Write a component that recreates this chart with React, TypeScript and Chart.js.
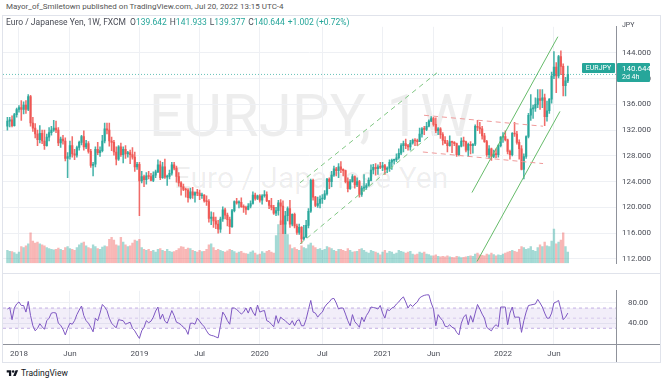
import React, { useEffect, useRef } from "react";
import { Chart, registerables } from "chart.js";

Chart.register(...registerables);

const FONT = "Roboto, 'Liberation Sans', Arial, sans-serif";
const UP = "#26a69a";
const DOWN = "#ef5350";
const UP_C = "rgba(38,166,154,0.85)";
const DOWN_C = "rgba(239,83,80,0.85)";
const UP_VOL = "rgba(38,166,154,0.42)";
const DOWN_VOL = "rgba(239,83,80,0.42)";
const GRID = "#eef0f4";
const AXIS_LINE = "#8f929b";
const TXT = "#4a4d57";

// Weekly bars, index 0 = week of 2017-11-27, last = week of 2022-07-18
const timeTickIdx = [5, 27, 57, 83, 109, 136, 162, 184, 214, 236];
const timeTickLabels = ["2018", "Jun", "2019", "Jul", "2020", "Jul", "2021", "Jun", "2022", "Jun"];
const priceTicks = [112, 116, 120, 124, 128, 132, 136, 140, 144];
const rsiTicks = [40, 80];

const opens = [
  132.6,133.4,133.6,132.7,134.4,135.2,135.5,135.2,135.9,135.2,
  137.2,133.1,132.3,131.4,130.5,131.5,130.3,129.6,130.9,131.6,
  132.0,132.3,132.0,130.0,130.6,130.3,127.6,127.9,129.6,128.3,
  128.1,129.3,130.1,131.0,129.4,129.9,128.7,126.5,126.7,129.0,
  128.5,128.8,130.3,132.2,132.0,130.3,130.1,128.6,127.5,129.4,
  128.2,129.0,128.3,128.5,128.2,127.8,126.3,126.7,124.1,124.8,
  124.3,124.9,124.8,124.2,125.0,125.5,126.6,124.6,126.3,124.7,
  124.8,125.3,126.6,126.1,124.8,123.8,123.2,122.8,122.7,121.5,
  122.4,121.9,122.3,122.2,121.8,121.9,121.0,120.9,118.3,118.5,
  117.9,117.4,116.6,118.2,119.6,118.8,118.1,117.0,119.5,120.9,
  120.7,120.8,120.1,120.0,119.7,120.2,120.6,121.9,121.4,121.8,
  121.1,121.8,122.0,121.0,120.3,120.0,119.1,119.5,120.7,120.2,
  117.4,118.7,119.8,117.4,118.9,117.1,116.1,116.9,115.1,115.4,
  117.2,119.4,124.2,121.6,120.3,120.6,121.3,121.4,122.1,124.4,
  124.0,125.0,126.0,125.7,126.3,125.9,125.7,124.0,122.9,124.0,
  124.8,123.5,124.0,122.0,123.0,123.1,123.4,124.2,125.8,126.2,
  126.0,126.3,126.2,126.5,125.9,126.1,127.0,127.3,127.4,127.7,
  128.4,129.6,129.9,129.6,129.4,130.0,130.4,130.3,130.2,131.4,
  132.2,132.1,132.6,133.4,133.8,132.9,131.9,132.2,131.3,130.4,
  130.0,129.6,130.2,130.1,129.9,128.2,129.5,130.3,130.2,128.9,
  129.8,129.6,129.8,132.6,132.4,132.2,131.1,130.2,128.2,129.1,
  127.9,128.3,128.2,129.6,130.9,131.0,130.5,128.7,128.2,131.5,
  131.4,130.1,129.1,125.9,127.9,131.0,134.3,135.3,135.4,136.0,
  136.9,136.6,137.0,134.1,135.0,136.8,140.4,141.8,140.4,143.4,
  141.9,138.9,139.642,
];

const highs = [
  134.0,134.0,134.2,134.6,135.4,135.8,136.6,136.4,136.6,137.5,
  137.4,134.0,133.0,132.0,132.7,132.0,132.0,131.4,132.4,132.6,
  133.5,133.4,132.4,130.9,131.2,130.8,128.5,130.3,131.0,129.0,
  129.5,130.3,131.2,131.9,130.4,130.2,129.0,127.0,129.4,130.1,
  129.4,131.2,133.1,133.1,133.1,130.9,130.4,129.4,129.6,130.0,
  129.4,129.6,128.7,128.9,129.3,128.6,127.0,127.0,125.6,125.0,
  125.4,125.6,125.3,125.5,125.8,127.4,127.2,127.0,127.5,125.0,
  125.8,127.0,127.0,126.4,125.4,124.0,123.6,123.0,122.9,123.0,
  123.1,122.4,122.8,122.7,122.2,122.0,121.8,121.2,119.3,119.2,
  118.5,118.0,118.5,120.1,119.9,119.1,118.5,119.7,121.0,121.4,
  121.0,121.5,120.4,120.2,120.6,121.0,122.4,122.2,121.9,122.0,
  122.0,122.6,122.4,121.1,121.4,120.3,120.0,121.1,121.2,121.0,
  119.4,120.1,121.1,119.0,119.1,117.4,117.4,117.0,117.2,118.0,
  119.8,124.4,124.4,121.7,121.6,121.8,122.0,122.6,124.5,124.6,
  125.6,126.4,126.2,126.8,127.1,126.0,125.8,124.6,124.3,125.1,
  124.9,124.6,124.2,123.3,125.1,123.7,124.6,126.6,126.7,126.8,
  126.6,127.0,127.0,126.7,126.3,127.4,127.5,127.5,128.3,129.1,
  129.9,130.3,130.6,129.8,130.4,130.6,130.7,130.6,132.3,132.4,
  132.6,133.2,133.6,134.1,134.0,133.9,132.4,132.4,131.6,131.0,
  130.4,131.1,130.3,130.2,130.0,129.6,130.8,130.9,130.3,130.0,
  130.2,129.9,132.8,133.5,133.2,132.6,131.5,130.4,129.6,129.2,
  128.9,129.1,129.7,131.0,131.6,131.9,130.6,128.9,131.6,133.2,
  131.8,130.5,129.6,128.3,131.1,134.6,137.5,135.9,137.0,138.3,
  138.3,138.3,137.6,136.5,136.9,141.0,144.2,142.5,143.6,144.3,
  142.3,140.2,141.933,
];

const lows = [
  132.0,132.5,132.5,132.6,134.0,134.8,133.5,134.5,134.6,135.0,
  132.6,131.8,130.8,129.6,130.0,129.9,129.0,129.5,130.3,131.2,
  131.8,131.6,129.6,129.3,129.8,127.2,124.6,127.5,127.8,127.4,
  127.8,128.9,129.7,128.9,129.1,128.4,126.2,124.9,126.3,128.2,
  127.9,128.6,130.0,131.4,129.5,128.8,128.1,126.6,127.3,127.9,
  126.9,127.6,127.8,126.8,127.5,125.6,125.9,118.7,123.8,123.2,
  123.6,124.4,124.1,124.0,124.6,125.4,124.3,124.5,124.5,123.4,
  124.4,125.0,125.8,123.9,123.3,121.9,122.6,121.6,120.8,121.3,
  121.4,120.8,121.8,121.2,121.4,120.8,120.3,117.7,117.3,116.9,
  116.7,116.0,116.1,117.8,118.2,117.1,115.9,116.9,119.3,120.5,
  119.9,120.0,119.2,118.9,119.6,119.9,120.5,121.1,121.2,120.8,
  120.5,121.6,120.9,119.8,119.6,118.9,118.7,118.8,117.3,115.9,
  115.9,117.9,116.9,117.1,116.8,115.8,115.8,114.4,114.9,115.3,
  116.8,119.2,121.1,120.1,120.0,119.9,120.6,121.2,121.9,122.9,
  123.2,124.8,124.9,124.6,125.4,124.9,123.8,122.4,122.8,123.9,
  123.0,123.2,121.6,121.7,122.5,122.8,123.3,124.1,125.2,125.0,
  125.1,126.0,125.7,125.1,125.4,125.6,125.9,126.7,127.1,127.5,
  128.2,128.6,129.1,128.9,128.9,129.8,129.6,129.6,130.2,130.9,
  131.3,131.9,132.5,133.3,132.6,131.6,131.3,130.7,129.7,129.9,
  128.6,129.5,128.5,129.6,127.9,128.0,129.4,129.5,128.6,127.9,
  128.3,128.4,129.6,131.9,131.5,130.6,130.1,127.9,127.6,127.3,
  127.7,127.7,127.8,129.4,130.1,130.3,128.3,127.5,128.0,131.0,
  129.8,127.5,125.8,124.4,127.6,130.8,133.5,133.8,134.9,135.5,
  135.2,135.5,132.7,133.4,134.6,136.2,140.0,137.8,140.1,140.6,
  137.3,137.3,139.377,
];

const closes = [
  133.4,133.6,132.7,134.4,135.2,135.5,135.2,135.9,135.2,137.2,
  133.1,132.3,131.4,130.5,131.5,130.3,129.6,130.9,131.6,132.0,
  132.3,132.0,130.0,130.6,130.3,127.6,127.9,129.6,128.3,128.1,
  129.3,130.1,131.0,129.4,129.9,128.7,126.5,126.7,129.0,128.5,
  128.8,130.3,132.2,132.0,130.3,130.1,128.6,127.5,129.4,128.2,
  129.0,128.3,128.5,128.2,127.8,126.3,126.7,124.1,124.8,124.3,
  124.9,124.8,124.2,125.0,125.5,126.6,124.6,126.3,124.7,124.8,
  125.3,126.6,126.1,124.8,123.8,123.2,122.8,122.7,121.5,122.4,
  121.9,122.3,122.2,121.8,121.9,121.0,120.9,118.3,118.5,117.9,
  117.4,116.6,118.2,119.6,118.8,118.1,117.0,119.5,120.9,120.7,
  120.8,120.1,120.0,119.7,120.2,120.6,121.9,121.4,121.8,121.1,
  121.8,122.0,121.0,120.3,120.0,119.1,119.5,120.7,120.2,117.4,
  118.7,119.8,117.4,118.9,117.1,116.1,116.9,115.1,115.4,117.2,
  119.4,124.2,121.6,120.3,120.6,121.3,121.4,122.1,124.4,124.0,
  125.0,126.0,125.7,126.3,125.9,125.7,124.0,122.9,124.0,124.8,
  123.5,124.0,122.0,123.0,123.1,123.4,124.2,125.8,126.2,126.0,
  126.3,126.2,126.5,125.9,126.1,127.0,127.3,127.4,127.7,128.4,
  129.6,129.9,129.6,129.4,130.0,130.4,130.3,130.2,131.4,132.2,
  132.1,132.6,133.4,133.8,132.9,131.9,132.2,131.3,130.4,130.0,
  129.6,130.2,130.1,129.9,128.2,129.5,130.3,130.2,128.9,129.8,
  129.6,129.8,132.6,132.4,132.2,131.1,130.2,128.2,129.1,127.9,
  128.3,128.2,129.6,130.9,131.0,130.5,128.7,128.2,131.5,131.4,
  130.1,129.1,125.9,127.9,131.0,134.3,135.3,135.4,136.0,136.9,
  136.6,137.0,134.1,135.0,136.8,140.4,141.8,140.4,143.4,141.9,
  138.9,139.642,140.644,
];

const volumes = [
  140,130,125,115,100,120,180,170,190,210,
  330,240,220,230,210,200,190,170,160,150,
  145,150,165,150,140,170,180,160,150,140,
  170,200,220,230,190,170,160,200,180,160,
  150,175,190,180,260,280,250,200,190,280,
  230,200,180,190,220,250,240,260,170,150,
  140,150,130,140,120,150,160,140,130,150,
  130,120,125,140,160,180,175,150,165,160,
  140,130,120,140,125,130,150,200,210,170,
  140,150,140,130,120,135,150,140,125,110,
  120,130,110,105,100,120,135,110,90,100,
  125,110,130,140,120,110,300,420,460,470,
  440,310,200,160,170,150,140,190,170,160,
  200,220,190,170,150,160,140,150,180,170,
  160,140,130,150,150,140,130,160,140,120,
  125,130,150,160,140,120,110,140,130,120,
  110,90,120,140,110,130,120,100,110,140,
  130,120,110,120,130,100,90,100,120,110,
  120,100,95,80,80,90,75,70,75,70,
  80,70,65,60,75,70,60,65,70,75,
  80,75,100,110,90,85,80,100,90,110,
  95,80,90,85,100,110,120,130,140,130,
  120,150,180,170,150,160,180,140,130,170,
  200,180,230,190,180,240,370,210,230,250,
  330,180,120,
];

const rsi = [
  68,71,47,70,78,82,75,75,62,83,
  55,35,25,30,39,33,28,45,50,60,
  61,60,40,36,28,17,30,40,38,45,
  57,66,74,55,45,40,32,23,50,45,
  60,77,72,65,50,40,35,31,47,46,
  45,38,40,42,30,25,17,10,25,32,
  45,41,44,52,64,72,48,58,44,40,
  52,65,55,42,40,37,32,28,18,40,
  40,38,50,44,38,33,25,18,16,15,
  13,11,35,62,55,45,38,70,70,67,
  63,58,62,70,60,72,62,55,76,62,
  64,65,45,43,38,33,55,40,52,48,
  45,40,37,45,35,45,47,35,35,48,
  67,85,62,60,52,58,62,72,78,82,
  88,89,80,68,70,70,58,45,35,57,
  43,38,32,52,43,55,62,72,71,70,
  68,75,60,50,67,65,70,72,78,82,
  88,92,82,70,77,73,78,82,90,93,
  95,96,96,80,68,35,57,50,45,34,
  33,37,32,30,22,17,40,52,57,37,
  55,42,60,77,68,58,50,32,28,25,
  33,37,33,72,72,72,37,60,72,52,
  52,52,22,45,62,75,76,77,78,87,
  80,72,60,50,50,60,80,82,85,67,
  47,52,60,
];

// Drawn trend lines: [week index, price]
const greenDashUpper = [[126.3, 123.8], [185.5, 140.9]];
const greenDashLower = [[126.3, 114.3], [182.9, 131.3]];
const redDashUpper = [[179.9, 134.3], [231.3, 132.6]];
const redDashLower = [[179.4, 128.6], [231.3, 126.8]];
const greenUpper = [[200.6, 122.3], [237.7, 146.5]];
const greenLower = [[202.8, 111.6], [238.6, 134.9]];
const lastPrice = 140.644;
const rsiBands = [70, 50, 30];

const X_MIN = -1.9;
const X_MAX = 262.8;
const P_MIN = 111.33;
const P_MAX = 148.04;
const V_MAX = 2570;
const R_MIN = -1;
const R_MAX = 104;

const toPts = (a: number[][]) => a.map(([x, y]) => ({ x, y }));

export default function App() {
  const mainRef = useRef<HTMLCanvasElement>(null);
  const rsiRef = useRef<HTMLCanvasElement>(null);

  useEffect(() => {
    const n = closes.length;
    const idx = Array.from({ length: n }, (_, i) => i);
    const up = idx.map((i) => closes[i] >= opens[i]);
    const tickFont = { family: FONT, size: 8 };

    const lineDs = (pts: any[], color: string, dash: number[], yAxisID = "y") => ({
      type: "line" as const,
      data: pts,
      borderColor: color,
      borderWidth: 1,
      borderDash: dash,
      pointRadius: 0,
      fill: false,
      tension: 0,
      yAxisID,
      order: 1,
    });

    const main = new Chart(mainRef.current!, {
      type: "bar",
      data: {
        datasets: [
          lineDs([{ x: X_MIN, y: lastPrice }, { x: X_MAX, y: lastPrice }], "rgba(38,166,154,0.7)", [1, 2]),
          lineDs(toPts(greenDashUpper), "#81c784", [5, 4]),
          lineDs(toPts(greenDashLower), "#81c784", [5, 4]),
          lineDs(toPts(redDashUpper), "#ef9a9a", [5, 4]),
          lineDs(toPts(redDashLower), "#ef9a9a", [5, 4]),
          lineDs(toPts(greenUpper), "#66bb6a", []),
          lineDs(toPts(greenLower), "#66bb6a", []),
          {
            type: "bar" as const,
            data: idx.map((i) => ({ x: i, y: [opens[i], closes[i]] })) as any,
            backgroundColor: idx.map((i) => (up[i] ? UP_C : DOWN_C)),
            barThickness: 1.6,
            minBarLength: 1,
            grouped: false,
            yAxisID: "y",
            order: 3,
          },
          {
            type: "bar" as const,
            data: idx.map((i) => ({
              x: i,
              y: [Math.min(lows[i], opens[i], closes[i]), Math.max(highs[i], opens[i], closes[i])],
            })) as any,
            backgroundColor: idx.map((i) => (up[i] ? UP_C : DOWN_C)),
            barThickness: 0.9,
            grouped: false,
            yAxisID: "y",
            order: 4,
          },
          {
            type: "bar" as const,
            data: idx.map((i) => ({ x: i, y: volumes[i] })) as any,
            backgroundColor: idx.map((i) => (up[i] ? UP_VOL : DOWN_VOL)),
            barThickness: 1.7,
            grouped: false,
            yAxisID: "yv",
            order: 6,
          },
        ] as any,
      },
      options: {
        animation: false,
        responsive: false,
        maintainAspectRatio: false,
        events: [],
        layout: { padding: { left: 3, right: 0, top: 0, bottom: 1 } },
        plugins: { legend: { display: false }, tooltip: { enabled: false } },
        scales: {
          x: {
            type: "linear",
            min: X_MIN,
            max: X_MAX,
            offset: false,
            grid: { color: GRID, drawTicks: false, offset: false },
            border: { display: false },
            ticks: { display: false },
            afterBuildTicks: (s: any) => {
              s.ticks = timeTickIdx.map((v) => ({ value: v }));
            },
            afterFit: (s: any) => {
              s.height = 0;
            },
          },
          y: {
            position: "right",
            min: P_MIN,
            max: P_MAX,
            grid: { color: GRID, drawTicks: false },
            border: { display: true, color: AXIS_LINE, width: 1 },
            ticks: {
              padding: 6,
              font: tickFont,
              color: TXT,
              callback: (v: any) => Number(v).toFixed(3),
            },
            afterBuildTicks: (s: any) => {
              s.ticks = priceTicks.map((v) => ({ value: v }));
            },
            afterFit: (s: any) => {
              s.width = 46;
            },
          },
          yv: { display: false, min: 0, max: V_MAX },
        },
      } as any,
    });

    const rsiChart = new Chart(rsiRef.current!, {
      type: "line",
      data: {
        datasets: [
          {
            data: idx.map((i) => ({ x: i, y: rsi[i] })),
            borderColor: "#7e57c2",
            borderWidth: 1,
            pointRadius: 0,
            fill: false,
            tension: 0,
            order: 0,
          },
          {
            data: [{ x: X_MIN, y: rsiBands[0] }, { x: X_MAX, y: rsiBands[0] }],
            borderColor: "rgba(149,117,205,0.55)",
            borderWidth: 1,
            borderDash: [3, 3],
            pointRadius: 0,
            fill: { value: rsiBands[2] },
            backgroundColor: "rgba(126,87,194,0.1)",
            order: 2,
          },
          {
            data: [{ x: X_MIN, y: rsiBands[1] }, { x: X_MAX, y: rsiBands[1] }],
            borderColor: "rgba(149,117,205,0.3)",
            borderWidth: 1,
            borderDash: [3, 3],
            pointRadius: 0,
            fill: false,
            order: 2,
          },
          {
            data: [{ x: X_MIN, y: rsiBands[2] }, { x: X_MAX, y: rsiBands[2] }],
            borderColor: "rgba(149,117,205,0.55)",
            borderWidth: 1,
            borderDash: [3, 3],
            pointRadius: 0,
            fill: false,
            order: 2,
          },
        ] as any,
      },
      options: {
        animation: false,
        responsive: false,
        maintainAspectRatio: false,
        events: [],
        layout: { padding: { left: 3, right: 0, top: 0, bottom: 0 } },
        plugins: { legend: { display: false }, tooltip: { enabled: false } },
        scales: {
          x: {
            type: "linear",
            min: X_MIN,
            max: X_MAX,
            grid: { color: GRID, drawTicks: false },
            border: { display: true, color: AXIS_LINE, width: 1 },
            ticks: {
              padding: 5,
              font: tickFont,
              color: TXT,
              maxRotation: 0,
              autoSkip: false,
              callback: (v: any) => {
                const k = timeTickIdx.indexOf(Number(v));
                return k >= 0 ? timeTickLabels[k] : "";
              },
            },
            afterBuildTicks: (s: any) => {
              s.ticks = timeTickIdx.map((v) => ({ value: v }));
            },
            afterFit: (s: any) => {
              s.height = 20;
            },
          },
          y: {
            position: "right",
            min: R_MIN,
            max: R_MAX,
            grid: { color: GRID, drawTicks: false },
            border: { display: true, color: AXIS_LINE, width: 1 },
            ticks: {
              padding: 12,
              font: tickFont,
              color: TXT,
              callback: (v: any) => Number(v).toFixed(2),
            },
            afterBuildTicks: (s: any) => {
              s.ticks = rsiTicks.map((v) => ({ value: v }));
            },
            afterFit: (s: any) => {
              s.width = 46;
            },
          },
        },
      } as any,
    });

    return () => {
      main.destroy();
      rsiChart.destroy();
    };
  }, []);

  const abs = (o: React.CSSProperties): React.CSSProperties => ({ position: "absolute", ...o });
  const teal = { color: UP };
  const dark = { color: "#4a4d57" };

  return (
    <div
      style={{
        position: "fixed",
        left: 0,
        top: 0,
        width: 662,
        height: 384,
        background: "#fff",
        overflow: "hidden",
        fontFamily: FONT,
      }}
    >
      {/* header */}
      <div style={abs({ left: 6, top: 2, fontSize: 8, lineHeight: "10px", color: "#555", whiteSpace: "nowrap" })}>
        Mayor_of_Smiletown published on TradingView.com, Jul 20, 2022 13:15 UTC-4
      </div>

      {/* frame */}
      <div style={abs({ left: 2, top: 15, width: 659, height: 348, border: "1px solid #e0e3eb", boxSizing: "border-box" })} />

      {/* watermark */}
      <div
        style={abs({
          left: 3,
          top: 86,
          width: 616,
          textAlign: "center",
          fontSize: 60,
          lineHeight: "60px",
          color: "rgba(0,0,0,0.07)",
          whiteSpace: "nowrap",
        })}
      >
        EURJPY, 1W
      </div>
      <div
        style={abs({
          left: 3,
          top: 163,
          width: 616,
          textAlign: "center",
          fontSize: 30,
          lineHeight: "30px",
          color: "rgba(0,0,0,0.07)",
          whiteSpace: "nowrap",
        })}
      >
        Euro / Japanese Yen
      </div>

      <canvas ref={mainRef} width={662} height={258} style={abs({ left: 0, top: 16 })} />
      <canvas ref={rsiRef} width={662} height={90} style={abs({ left: 0, top: 274 })} />

      {/* pane separators */}
      <div style={abs({ left: 3, top: 273, width: 657, height: 1, background: "#e0e3eb" })} />
      <div style={abs({ left: 616, top: 344, width: 44, height: 1, background: AXIS_LINE })} />
      <div style={abs({ left: 616, top: 344, width: 1, height: 18, background: AXIS_LINE })} />

      {/* legend */}
      <div style={abs({ left: 6, top: 17, fontSize: 8.5, lineHeight: "10px", whiteSpace: "nowrap" })}>
        <span style={dark}>Euro / Japanese Yen, 1W, FXCM</span>
        <span style={{ ...dark, marginLeft: 4 }}>O</span>
        <span style={teal}>139.642</span>
        <span style={{ ...dark, marginLeft: 3 }}>H</span>
        <span style={teal}>141.933</span>
        <span style={{ ...dark, marginLeft: 3 }}>L</span>
        <span style={teal}>139.377</span>
        <span style={{ ...dark, marginLeft: 3 }}>C</span>
        <span style={teal}>140.644</span>
        <span style={{ ...teal, marginLeft: 3 }}>+1.002 (+0.72%)</span>
      </div>

      {/* price axis decorations */}
      <div style={abs({ left: 622, top: 21, fontSize: 7, lineHeight: "9px", color: TXT })}>JPY</div>
      <div
        style={abs({
          left: 582,
          top: 63,
          width: 33,
          height: 10,
          background: UP,
          color: "#fff",
          fontSize: 7,
          lineHeight: "10px",
          textAlign: "center",
          borderRadius: 1,
        })}
      >
        EURJPY
      </div>
      <div
        style={abs({
          left: 617,
          top: 63,
          width: 33,
          height: 19,
          background: UP,
          color: "#fff",
          borderRadius: 1,
        })}
      >
        <div style={{ fontSize: 8, lineHeight: "9px", paddingLeft: 5, paddingTop: 1 }}>140.644</div>
        <div style={{ fontSize: 7, lineHeight: "8px", paddingLeft: 5 }}>2d 4h</div>
      </div>

      {/* footer */}
      <svg width="13" height="9" viewBox="0 0 36 28" style={abs({ left: 6, top: 369 })}>
        <path d="M14 22H7V11H0V4h14v18zM28 22h-8l7.5-18h8L28 22z" fill="#131722" />
        <circle cx="20" cy="8" r="4" fill="#131722" />
      </svg>
      <div style={abs({ left: 21, top: 368, fontSize: 8.5, lineHeight: "10px", color: "#131722" })}>TradingView</div>
    </div>
  );
}
